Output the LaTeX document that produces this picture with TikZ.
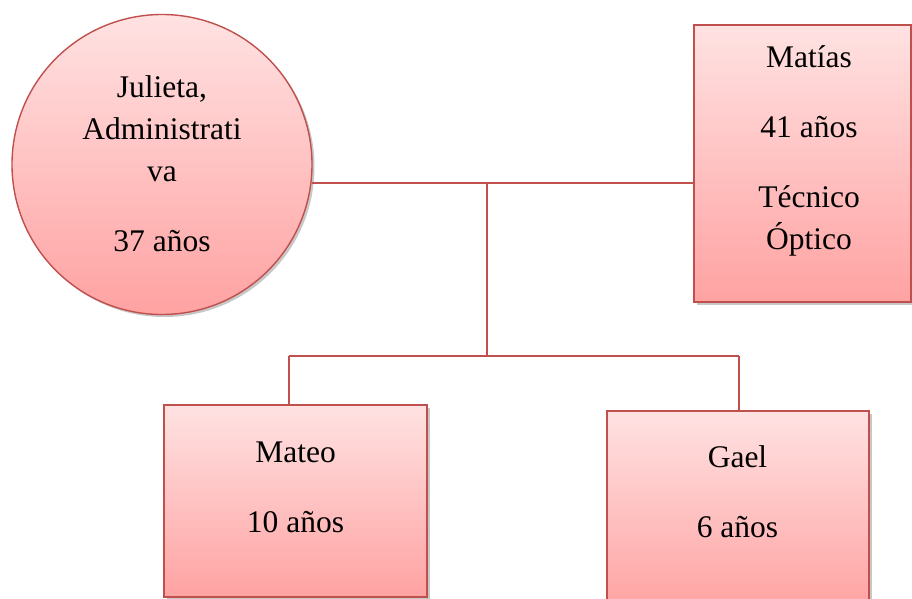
\documentclass[tikz,border=0pt]{standalone}
\usepackage{fontspec}
\setmainfont{Liberation Serif}
\usepackage{xcolor}
\usetikzlibrary{shadows}

\definecolor{redline}{RGB}{192,80,77}
\definecolor{pinktop}{RGB}{255,226,226}
\definecolor{pinkbot}{RGB}{255,162,162}

\begin{document}
\begin{tikzpicture}[x=1pt,y=-1pt,
  member/.style={draw=redline,line width=1.4pt,top color=pinktop,bottom color=pinkbot,
    drop shadow={shadow xshift=2.5pt,shadow yshift=-2.5pt,fill=black,opacity=.22},
    inner sep=0pt},
  memtext/.style={anchor=base,align=center,inner sep=0pt,font=\fontsize{31.5}{42}\selectfont},
  link/.style={draw=redline,line width=1.3pt}]
\useasboundingbox (0,0) rectangle (912,599);
\clip (0,0) rectangle (912,599);
% parents
\node[member,circle,minimum size=300pt] (julieta) at (162,164.5) {};
\node[member,rectangle,minimum width=217pt,minimum height=277pt] (matias) at (802.5,163.5) {};
% children
\node[member,rectangle,minimum width=263pt,minimum height=192pt] (mateo) at (295.5,501) {};
\node[member,rectangle,minimum width=262pt,minimum height=200pt] (gael) at (738,511) {};

% text (base = last line)
\node[memtext] (julietaTxt) at (162,251) {Julieta,\\Administrati\\va\\[28pt]37 años};
\node[memtext] (matiasTxt) at (809,249) {Matías\\[28pt]41 años\\[28pt]Técnico\\Óptico};
\node[memtext] (mateoTxt) at (295.5,532) {Mateo\\[28pt]10 años};
\node[memtext] (gaelTxt) at (737.5,537) {Gael\\[28pt]6 años};

% connectors
\coordinate (pair) at (487,184);
\coordinate (kids) at (487,356);
\coordinate (kidL) at (289,356);
\coordinate (kidR) at (739,356);
\draw[link] (julieta.-7.5) -- (julieta.-7.5 -| matias.west);
\draw[link] (pair) -- (kids);
\draw[link] (kidL) -- (kidR);
\draw[link] (kidL) -- (kidL |- mateo.north);
\draw[link] (kidR) -- (kidR |- gael.north);
\end{tikzpicture}
\end{document}
